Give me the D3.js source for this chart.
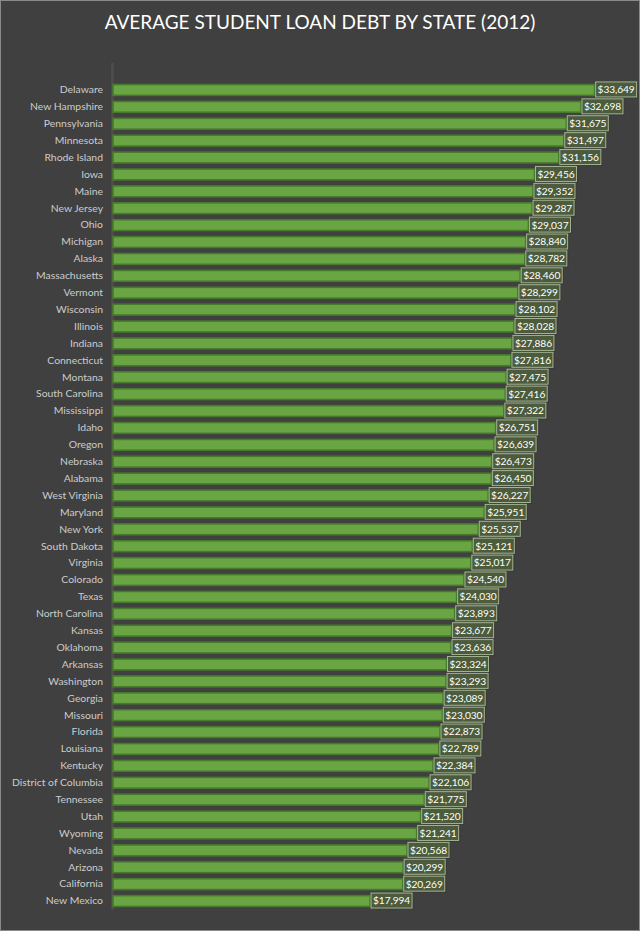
<!DOCTYPE html>
<html>
<head>
<meta charset="utf-8">
<script src="https://cdn.jsdelivr.net/npm/d3@7"></script>
<style>
  html, body { margin: 0; padding: 0; background: #404040; }
  svg { display: block; }
</style>
</head>
<body>
<div id="chart"></div>
<script>
const width = 640;
const height = 931;

const MARGIN = {
  TOP: 81.5,
  BOTTOM: 21.5,
  LEFT: 112,
  RIGHT: 26
}

const states = [
  "Delaware", "New Hampshire", "Pennsylvania", "Minnesota", "Rhode Island",
  "Iowa", "Maine", "New Jersey", "Ohio", "Michigan", "Alaska", "Massachusetts",
  "Vermont", "Wisconsin", "Illinois", "Indiana", "Connecticut", "Montana",
  "South Carolina", "Mississippi", "Idaho", "Oregon", "Nebraska", "Alabama",
  "West Virginia", "Maryland", "New York", "South Dakota", "Virginia", "Colorado",
  "Texas", "North Carolina", "Kansas", "Oklahoma", "Arkansas", "Washington",
  "Georgia", "Missouri", "Florida", "Louisiana", "Kentucky", "District of Columbia",
  "Tennessee", "Utah", "Wyoming", "Nevada", "Arizona", "California", "New Mexico"
];

const debt = [
  33649, 32698, 31675, 31497, 31156,
  29456, 29352, 29287, 29037, 28840, 28782, 28460,
  28299, 28102, 28028, 27886, 27816, 27475,
  27416, 27322, 26751, 26639, 26473, 26450,
  26227, 25951, 25537, 25121, 25017, 24540,
  24030, 23893, 23677, 23636, 23324, 23293,
  23089, 23030, 22873, 22789, 22384, 22106,
  21775, 21520, 21241, 20568, 20299, 20269, 17994
];

const xDomain = [0, 35000];

const svg = d3.select("#chart")
  .append("svg")
  .attr("width", width)
  .attr("height", height)
  .attr("viewBox", [0, 0, width, height]);

// background + thin frame
svg.append("rect")
  .attr("x", 0.5).attr("y", 0.5)
  .attr("width", width - 1).attr("height", height - 1)
  .attr("fill", "#404040")
  .attr("stroke", "#8a8a8a")
  .attr("stroke-width", 1);

svg.append("text")
  .attr("x", width / 2)
  .attr("y", 29)
  .attr("text-anchor", "middle")
  .attr("fill", "#ffffff")
  .style("font-family", "Lato, 'Open Sans', sans-serif")
  .style("font-size", "19px")
  .text("AVERAGE STUDENT LOAN DEBT BY STATE (2012)");

let x = d3.scaleLinear()
  .domain(xDomain)
  .range([MARGIN.LEFT, width - MARGIN.RIGHT]);

let y = d3.scaleBand()
  .domain(states)
  .range([MARGIN.TOP, height - MARGIN.BOTTOM])
  .paddingInner(0.36)
  .paddingOuter(0.18);

// vertical category axis line
svg.append("line")
  .attr("x1", MARGIN.LEFT + 0.5).attr("x2", MARGIN.LEFT + 0.5)
  .attr("y1", 63).attr("y2", height - MARGIN.BOTTOM)
  .attr("stroke", "#4c4c4c")
  .attr("stroke-width", 3);

// category labels
let yAxis = svg.append("g")
  .attr("transform", "translate(" + (MARGIN.LEFT - 1) + ",0)")
  .call(d3.axisLeft(y).tickSize(0).tickPadding(8));
yAxis.select(".domain").remove();
yAxis.selectAll("text")
  .attr("fill", "#cccccc")
  .style("font-family", "Lato, 'Open Sans', sans-serif")
  .style("font-size", "10.4px");

// bars
svg.append("g")
  .selectAll("rect")
  .data(states)
  .join("rect")
  .attr("x", x(0) + 1)
  .attr("y", d => y(d))
  .attr("width", (d, i) => x(debt[i]) - x(0) - 1)
  .attr("height", y.bandwidth())
  .attr("fill", "#6aa544")
  .attr("stroke", "#477a2c")
  .attr("stroke-width", 1.6);

// value labels
const fmt = d3.format("$,");
let labels = svg.append("g")
  .selectAll("g")
  .data(states)
  .join("g")
  .attr("transform", (d, i) => "translate(" + (x(debt[i]) + 1) + "," + (y(d) + y.bandwidth() / 2) + ")");

labels.append("rect")
  .attr("x", 1.5).attr("y", -6.5)
  .attr("width", 41).attr("height", 15)
  .attr("fill", "#333333")
  .attr("opacity", 0.6);

labels.append("rect")
  .attr("x", 0).attr("y", -8)
  .attr("width", 41).attr("height", 15)
  .attr("fill", "#4b5b3b")
  .attr("stroke", "#a5b593")
  .attr("stroke-width", 1);

labels.append("text")
  .attr("x", 20.5)
  .attr("y", 3.4)
  .attr("text-anchor", "middle")
  .attr("fill", "#ffffff")
  .style("font-family", "Lato, 'Open Sans', sans-serif")
  .style("font-size", "10.2px")
  .style("letter-spacing", "-0.1px")
  .text((d, i) => fmt(debt[i]));
</script>
</body>
</html>
